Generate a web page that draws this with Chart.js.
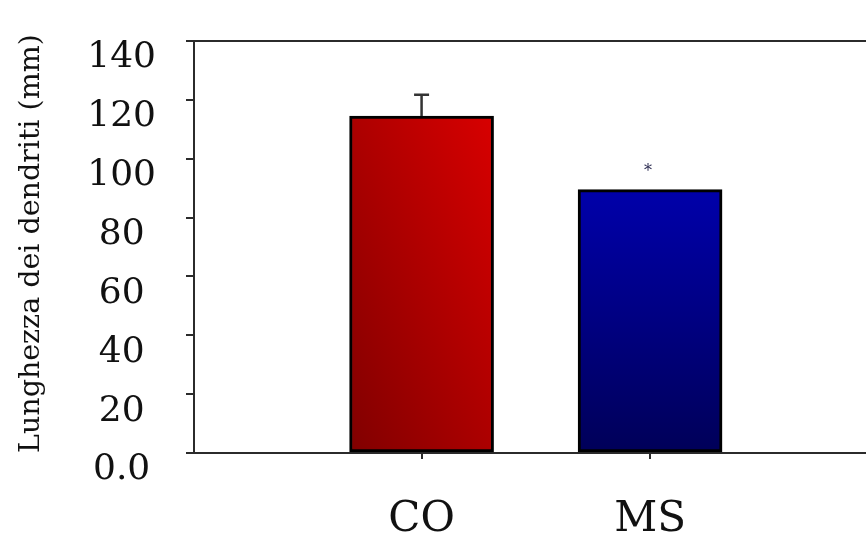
<!DOCTYPE html>
<html>
<head>
<meta charset="utf-8">
<script src="https://cdn.jsdelivr.net/npm/chart.js@4/dist/chart.umd.min.js"></script>
<style>
  html, body { margin: 0; padding: 0; background: #ffffff; }
  #wrap { width: 866px; height: 541px; position: relative; }
</style>
</head>
<body>
<div id="wrap"><canvas id="c" width="866" height="541"></canvas></div>
<script>
// ---- data ----
const categories = ['CO', 'MS'];
const values = [114.5, 89.5];
const errors = [7.2, 0];
const markers = ['', '*'];
const yTickValues = [0, 20, 40, 60, 80, 100, 120, 140];
const yTickLabels = ['0.0', '20', '40', '60', '80', '100', '120', '140'];
const yTitle = 'Lunghezza dei dendriti (mm)';

const SERIF = '"DejaVu Serif", "Liberation Serif", serif';
const AXIS = '#2b2b2b';

function barGradient(ctx) {
  const chart = ctx.chart;
  const i = ctx.dataIndex;
  const xs = chart.scales.x, ys = chart.scales.y;
  if (!chart.chartArea || !xs || !ys || i === undefined) return i === 0 ? '#b00000' : '#000090';
  const g = chart.ctx;
  const cx = xs.getPixelForValue(i);
  const half = 72;
  const top = ys.getPixelForValue(values[i]);
  const bottom = ys.getPixelForValue(0);
  if (i === 0) {
    const w = 2 * half, h = bottom - top;
    const L2 = w * w + h * h;
    const k = 2 * w * h / L2;
    const x0 = cx - half, y0 = bottom;
    const grad = g.createLinearGradient(x0, y0, x0 + h * k, y0 - w * k);
    grad.addColorStop(0, '#800000');
    grad.addColorStop(1, '#d80000');
    return grad;
  }
  const grad = g.createLinearGradient(0, top, 0, bottom);
  grad.addColorStop(0, '#0000aa');
  grad.addColorStop(1, '#000058');
  return grad;
}

const extras = {
  id: 'extras',
  afterDatasetsDraw(chart) {
    const g = chart.ctx;
    const ys = chart.scales.y;
    const meta = chart.getDatasetMeta(0);
    g.save();
    meta.data.forEach((bar, i) => {
      if (errors[i] > 0) {
        const yTop = ys.getPixelForValue(values[i] + errors[i]);
        const yBar = ys.getPixelForValue(values[i]);
        g.strokeStyle = '#333333';
        g.lineWidth = 2.5;
        g.beginPath();
        g.moveTo(bar.x, yBar);
        g.lineTo(bar.x, yTop);
        g.moveTo(bar.x - 7.5, yTop);
        g.lineTo(bar.x + 7.5, yTop);
        g.stroke();
      }
      if (markers[i]) {
        g.fillStyle = '#2a2a50';
        g.font = '16px ' + SERIF;
        g.textAlign = 'center';
        g.textBaseline = 'middle';
        g.fillText(markers[i], bar.x - 2, ys.getPixelForValue(values[i]) - 18);
      }
    });
    g.restore();
  }
};

new Chart(document.getElementById('c'), {
  type: 'bar',
  data: {
    datasets: [{
      data: values.map((v, i) => ({ x: i, y: v })),
      backgroundColor: barGradient,
      borderColor: '#000000',
      borderWidth: 3,
      borderSkipped: false,
      barThickness: 144
    }]
  },
  options: {
    responsive: false,
    animation: false,
    layout: { padding: { top: 41, right: 0, bottom: 0, left: 0 } },
    plugins: { legend: { display: false }, tooltip: { enabled: false } },
    scales: {
      x: {
        type: 'linear',
        offset: false,
        min: -0.996,
        max: 1.945,
        afterBuildTicks: (s) => { s.ticks = categories.map((c, i) => ({ value: i })); },
        afterFit: (s) => { s.height = 88; },
        border: { display: true, color: AXIS, width: 2 },
        grid: { offset: false, drawOnChartArea: false, drawTicks: true, tickLength: 6, tickColor: AXIS, lineWidth: 2, color: AXIS },
        ticks: {
          autoSkip: false,
          maxRotation: 0,
          padding: 36,
          color: '#111111',
          font: { family: SERIF, size: 42 },
          callback: (v) => categories[v]
        }
      },
      y: {
        min: 0,
        max: 140,
        afterBuildTicks: (s) => { s.ticks = yTickValues.map(v => ({ value: v })); },
        afterFit: (s) => { s.width = 194; },
        border: { display: true, color: AXIS, width: 2 },
        grid: {
          drawOnChartArea: true,
          drawTicks: true,
          tickLength: 8,
          tickColor: AXIS,
          lineWidth: 2,
          color: (ctx) => (ctx.tick && ctx.tick.value === 140) ? AXIS : 'rgba(0,0,0,0)'
        },
        ticks: {
          padding: 30,
          crossAlign: 'center',
          labelOffset: 17,
          color: '#111111',
          font: { family: SERIF, size: 36, lineHeight: 0.5 },
          callback: (v) => yTickLabels[yTickValues.indexOf(v)]
        },
        title: {
          display: true,
          text: yTitle,
          align: 'start',
          color: '#111111',
          font: { family: SERIF, size: 28.5 },
          padding: { top: 14, bottom: 0 }
        }
      }
    }
  },
  plugins: [extras]
});
</script>
</body>
</html>
